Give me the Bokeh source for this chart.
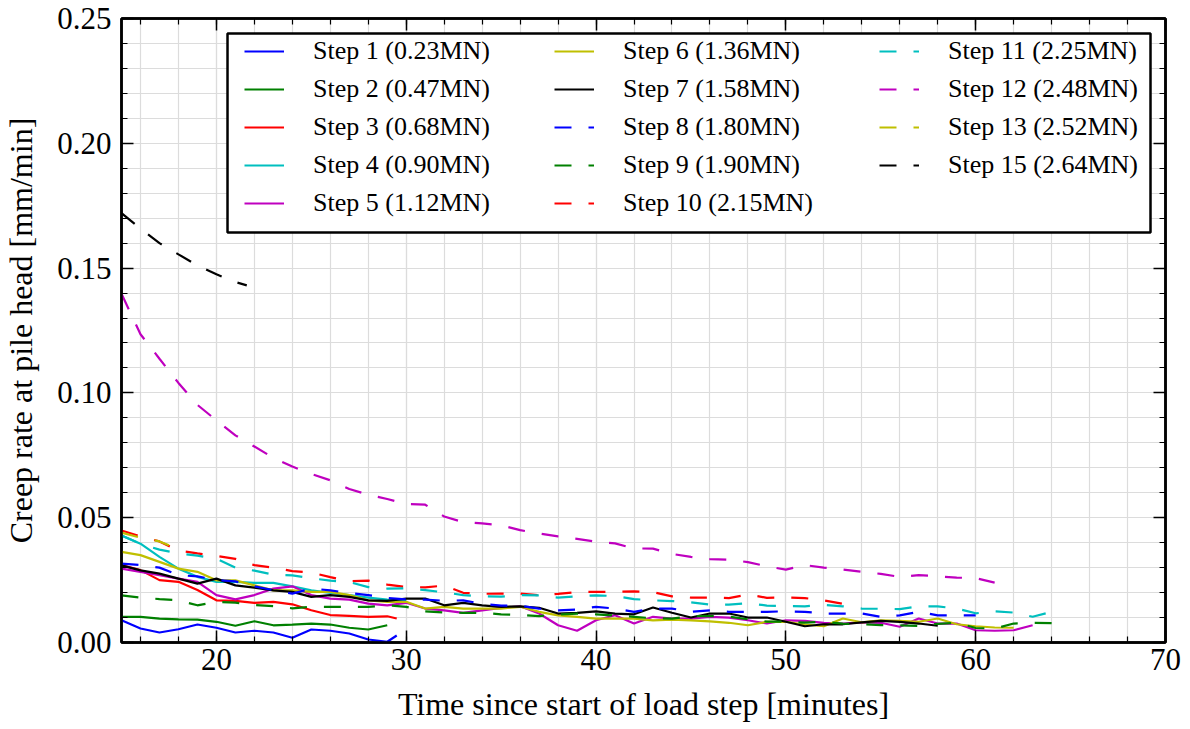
from bokeh.plotting import figure
from bokeh.models import (Range1d, LinearAxis, SingleIntervalTicker, NumeralTickFormatter,
                          Legend, LegendItem, BoxAnnotation)
from bokeh.embed import file_html
from bokeh.resources import INLINE

# ---- measured creep rates [mm/min] vs. time since start of load step [min] ----
t_step1 = [15, 16, 17, 18, 19, 20, 21, 22, 23, 24, 25, 26, 27, 28, 29, 29.5]
v_step1 = [0.0089, 0.0056, 0.0040, 0.0053, 0.0072, 0.0059, 0.0040, 0.0047, 0.0040, 0.0019,
           0.0052, 0.0047, 0.0036, 0.0012, 0.0003, 0.0028]

t_step2 = [15, 16, 17, 18, 19, 20, 21, 22, 23, 24, 25, 26, 27, 28, 29]
v_step2 = [0.0103, 0.0103, 0.0096, 0.0093, 0.0092, 0.0083, 0.0067, 0.0085, 0.0069, 0.0072,
           0.0076, 0.0072, 0.0059, 0.0052, 0.0069]

t_step3 = [15, 16, 17, 18, 19, 20, 21, 22, 23, 24, 25, 26, 27, 28, 29, 29.5]
v_step3 = [0.0310, 0.0290, 0.0250, 0.0243, 0.0210, 0.0169, 0.0167, 0.0159, 0.0163, 0.0153,
           0.0129, 0.0110, 0.0107, 0.0103, 0.0105, 0.0096]

t_step4 = [15, 16, 17, 18, 19, 20, 21, 22, 23, 24, 25, 26, 27, 28, 29, 30]
v_step4 = [0.0429, 0.0396, 0.0343, 0.0296, 0.0263, 0.0243, 0.0243, 0.0239, 0.0239, 0.0225,
           0.0209, 0.0199, 0.0190, 0.0180, 0.0172, 0.0170]

t_step5 = [15, 16, 17, 18, 19, 20, 21, 22, 23, 24, 25, 26, 27, 28, 29, 30, 31, 32, 33, 34,
           35, 36, 37, 38, 39, 40, 41, 42, 43, 44, 45, 46, 47, 48, 49, 50, 51, 52, 53, 54,
           55, 56, 57, 58, 59, 60, 61, 62, 63]
v_step5 = [0.0296, 0.0283, 0.0270, 0.0256, 0.0243, 0.0190, 0.0173, 0.0190, 0.0216, 0.0225,
           0.0190, 0.0176, 0.0172, 0.0156, 0.0149, 0.0159, 0.0136, 0.0129, 0.0119, 0.0129,
           0.0139, 0.0145, 0.0116, 0.0069, 0.0047, 0.0089, 0.0109, 0.0076, 0.0103, 0.0096,
           0.0096, 0.0103, 0.0100, 0.0089, 0.0076, 0.0089, 0.0087, 0.0079, 0.0076, 0.0081,
           0.0079, 0.0063, 0.0096, 0.0076, 0.0076, 0.0049, 0.0047, 0.0049, 0.0069]

t_step6 = [15, 16, 17, 18, 19, 20, 21, 22, 23, 24, 25, 26, 27, 28, 29, 30, 31, 32, 33, 34,
           35, 36, 37, 38, 39, 40, 41, 42, 43, 44, 45, 46, 47, 48, 49, 50, 51, 52, 53, 54,
           55, 56, 57, 58, 59, 60, 61, 62]
v_step6 = [0.0363, 0.0350, 0.0323, 0.0296, 0.0283, 0.0249, 0.0249, 0.0229, 0.0209, 0.0209,
           0.0203, 0.0203, 0.0190, 0.0169, 0.0163, 0.0163, 0.0136, 0.0143, 0.0136, 0.0136,
           0.0136, 0.0143, 0.0123, 0.0109, 0.0103, 0.0096, 0.0096, 0.0096, 0.0089, 0.0092,
           0.0089, 0.0085, 0.0079, 0.0069, 0.0083, 0.0083, 0.0072, 0.0065, 0.0096, 0.0081,
           0.0089, 0.0087, 0.0083, 0.0096, 0.0073, 0.0065, 0.0060, 0.0059]

t_step7 = [15, 16, 17, 18, 19, 20, 21, 22, 23, 24, 25, 26, 27, 28, 29, 30, 31, 32, 33, 34,
           35, 36, 37, 38, 39, 40, 41, 42, 43, 44, 45, 46, 47, 48, 49, 50, 51, 52, 53, 54,
           55, 56, 57, 58]
v_step7 = [0.0309, 0.0289, 0.0276, 0.0256, 0.0236, 0.0256, 0.0229, 0.0220, 0.0209, 0.0203,
           0.0183, 0.0190, 0.0183, 0.0169, 0.0167, 0.0176, 0.0176, 0.0149, 0.0159, 0.0149,
           0.0143, 0.0145, 0.0139, 0.0116, 0.0119, 0.0125, 0.0116, 0.0113, 0.0140, 0.0119,
           0.0100, 0.0116, 0.0116, 0.0100, 0.0100, 0.0083, 0.0065, 0.0073, 0.0073, 0.0081,
           0.0087, 0.0083, 0.0076, 0.0067]

t_step8 = [15, 16, 17, 18, 19, 20, 21, 22, 23, 24, 25, 26, 27, 28, 29, 30, 31, 32, 33, 34,
           35, 36, 37, 38, 39, 40, 41, 42, 43, 44, 45, 46, 47, 48, 49, 50, 51, 52, 53, 54,
           55, 56, 57, 58, 59, 60]
v_step8 = [0.0316, 0.0310, 0.0300, 0.0270, 0.0265, 0.0250, 0.0245, 0.0225, 0.0210, 0.0196,
           0.0216, 0.0209, 0.0198, 0.0190, 0.0178, 0.0173, 0.0172, 0.0167, 0.0169, 0.0155,
           0.0148, 0.0147, 0.0136, 0.0129, 0.0132, 0.0143, 0.0136, 0.0123, 0.0136, 0.0136,
           0.0123, 0.0129, 0.0123, 0.0123, 0.0123, 0.0125, 0.0123, 0.0116, 0.0116, 0.0116,
           0.0103, 0.0109, 0.0123, 0.0109, 0.0109, 0.0109]

t_step9 = [15, 16, 17, 18, 19, 20, 21, 22, 23, 24, 25, 26, 27, 28, 29, 30, 31, 32, 33, 34,
           35, 36, 37, 38, 39, 40, 41, 42, 43, 44, 45, 46, 47, 48, 49, 50, 51, 52, 53, 54,
           55, 56, 57, 58, 59, 60, 61, 62, 63, 64]
v_step9 = [0.0189, 0.0180, 0.0174, 0.0169, 0.0149, 0.0163, 0.0160, 0.0150, 0.0146, 0.0137,
           0.0143, 0.0143, 0.0143, 0.0143, 0.0149, 0.0143, 0.0125, 0.0120, 0.0119, 0.0119,
           0.0113, 0.0110, 0.0106, 0.0112, 0.0116, 0.0113, 0.0108, 0.0103, 0.0097, 0.0096,
           0.0105, 0.0106, 0.0104, 0.0093, 0.0084, 0.0083, 0.0080, 0.0083, 0.0076, 0.0073,
           0.0070, 0.0069, 0.0066, 0.0075, 0.0079, 0.0058, 0.0056, 0.0076, 0.0079, 0.0078]

t_step10 = [15, 16, 17, 18, 19, 20, 21, 22, 23, 24, 25, 26, 27, 28, 29, 30, 31, 32, 33, 34,
            35, 36, 37, 38, 39, 40, 41, 42, 43, 44, 45, 46, 47, 48, 49, 50, 51, 52, 53, 53.7]
v_step10 = [0.0449, 0.0425, 0.0405, 0.0368, 0.0357, 0.0347, 0.0335, 0.0310, 0.0300, 0.0286,
            0.0280, 0.0262, 0.0245, 0.0248, 0.0232, 0.0222, 0.0221, 0.0228, 0.0199, 0.0195,
            0.0196, 0.0196, 0.0189, 0.0195, 0.0202, 0.0203, 0.0203, 0.0205, 0.0202, 0.0185,
            0.0180, 0.0180, 0.0178, 0.0192, 0.0179, 0.0180, 0.0178, 0.0169, 0.0155, 0.0140]

t_step11 = [15, 16, 17, 18, 19, 20, 21, 22, 23, 24, 25, 26, 27, 28, 29, 30, 31, 32, 33, 34,
            35, 36, 37, 38, 39, 40, 41, 42, 43, 44, 45, 46, 47, 48, 49, 50, 51, 52, 53, 54,
            55, 56, 57, 58, 59, 60, 61, 62, 63, 64]
v_step11 = [0.0429, 0.0395, 0.0372, 0.0357, 0.0348, 0.0336, 0.0300, 0.0288, 0.0272, 0.0269,
            0.0257, 0.0248, 0.0242, 0.0222, 0.0216, 0.0217, 0.0210, 0.0201, 0.0190, 0.0185,
            0.0184, 0.0190, 0.0189, 0.0180, 0.0185, 0.0189, 0.0186, 0.0174, 0.0169, 0.0166,
            0.0161, 0.0152, 0.0152, 0.0157, 0.0148, 0.0146, 0.0145, 0.0151, 0.0145, 0.0136,
            0.0135, 0.0134, 0.0145, 0.0145, 0.0136, 0.0117, 0.0125, 0.0120, 0.0103, 0.0123]

t_step12 = [15, 16, 17, 18, 19, 20, 21, 22, 23, 24, 25, 26, 27, 28, 29, 30, 31, 32, 33, 34,
            35, 36, 37, 38, 39, 40, 41, 42, 43, 44, 45, 46, 47, 48, 49, 50, 51, 52, 53, 54,
            55, 56, 57, 58, 59, 60, 61]
v_step12 = [0.1397, 0.1235, 0.1137, 0.1040, 0.0952, 0.0890, 0.0830, 0.0785, 0.0740, 0.0705,
            0.0675, 0.0650, 0.0615, 0.0592, 0.0575, 0.0555, 0.0552, 0.0505, 0.0482, 0.0477,
            0.0470, 0.0450, 0.0437, 0.0425, 0.0415, 0.0404, 0.0397, 0.0377, 0.0376, 0.0355,
            0.0343, 0.0334, 0.0332, 0.0322, 0.0305, 0.0292, 0.0310, 0.0300, 0.0292, 0.0283,
            0.0275, 0.0263, 0.0270, 0.0265, 0.0260, 0.0258, 0.0240]

t_step13 = [15, 16, 17, 17.5]
v_step13 = [0.0440, 0.0420, 0.0405, 0.0390]

t_step15 = [15, 16, 17, 18, 19, 20, 21, 21.6]
v_step15 = [0.1720, 0.1658, 0.1600, 0.1555, 0.1511, 0.1475, 0.1444, 0.1431]

step_labels = ["Step 1 (0.23MN)", "Step 2 (0.47MN)", "Step 3 (0.68MN)", "Step 4 (0.90MN)",
               "Step 5 (1.12MN)", "Step 6 (1.36MN)", "Step 7 (1.58MN)", "Step 8 (1.80MN)",
               "Step 9 (1.90MN)", "Step 10 (2.15MN)", "Step 11 (2.25MN)", "Step 12 (2.48MN)",
               "Step 13 (2.52MN)", "Step 15 (2.64MN)"]

x_label = "Time since start of load step [minutes]"
y_label = "Creep rate at pile head [mm/min]"

# ---- styling ----
FONT = "Liberation Serif"
COLORS = ["#0000ff", "#008000", "#ff0000", "#00bfbf", "#bf00bf", "#bfbf00", "#000000"]
DASH = "17 17"
LW = 2.2

series = [
    (t_step1, v_step1), (t_step2, v_step2), (t_step3, v_step3), (t_step4, v_step4),
    (t_step5, v_step5), (t_step6, v_step6), (t_step7, v_step7), (t_step8, v_step8),
    (t_step9, v_step9), (t_step10, v_step10), (t_step11, v_step11), (t_step12, v_step12),
    (t_step13, v_step13), (t_step15, v_step15),
]

p = figure(width=1190, height=729, output_backend="svg", toolbar_location=None,
           x_range=Range1d(15, 70), y_range=Range1d(0, 0.25),
           min_border_left=121, min_border_right=25, min_border_top=18, min_border_bottom=87)
p.background_fill_color = "white"
p.border_fill_color = "white"
p.outline_line_color = "black"
p.outline_line_width = 2.5

xticker = SingleIntervalTicker(interval=10, num_minor_ticks=5)
yticker = SingleIntervalTicker(interval=0.05, num_minor_ticks=5)

p.xaxis.ticker = xticker
p.yaxis.ticker = yticker
p.yaxis.formatter = NumeralTickFormatter(format="0.00")
p.xaxis.formatter = NumeralTickFormatter(format="0")
p.xaxis.axis_label = x_label
p.yaxis.axis_label = y_label

for ax in (p.xaxis[0], p.yaxis[0]):
    ax.axis_label_text_font = FONT
    ax.axis_label_text_font_size = "32px"
    ax.axis_label_text_font_style = "normal"
    ax.axis_label_text_color = "black"
    ax.major_label_text_font = FONT
    ax.major_label_text_font_size = "31px"
    ax.major_label_text_color = "black"

p.xaxis.major_label_standoff = 6
p.xaxis.axis_label_standoff = 13
p.yaxis.major_label_standoff = 10
p.yaxis.axis_label_standoff = 15

# mirrored axes on top and right: ticks only, no labels drawn
for side in ("above", "right"):
    mirror = LinearAxis(ticker=xticker if side == "above" else yticker,
                        major_label_text_font_size="1px", major_label_text_color=None,
                        major_label_standoff=0)
    p.add_layout(mirror, side)

for ax in p.axis:
    ax.axis_line_color = "black"
    ax.axis_line_width = 2.5
    ax.major_tick_in = 12
    ax.major_tick_out = 0
    ax.minor_tick_in = 6
    ax.minor_tick_out = 0
    ax.major_tick_line_color = "black"
    ax.minor_tick_line_color = "black"
    ax.major_tick_line_width = 1.5
    ax.minor_tick_line_width = 1.2

for g in (p.xgrid[0], p.ygrid[0]):
    g.grid_line_color = "#dcdcdc"
    g.grid_line_width = 1.2
    g.minor_grid_line_color = "#dcdcdc"
    g.minor_grid_line_width = 1.2

renderers = []
for i, (t, v) in enumerate(series):
    color = COLORS[i % 7]
    dash = "solid" if i < 7 else DASH
    r = p.line(t, v, line_color=color, line_width=LW, line_dash=dash)
    renderers.append(r)

# legend frame
legend_box = BoxAnnotation(left=20.585, right=69.21, bottom=0.1643, top=0.2440,
                           fill_color="white", fill_alpha=1.0,
                           line_color="black", line_alpha=1.0, line_width=2.5)
p.add_layout(legend_box)

ROW = 38
columns = [(0, 5, 123), (5, 10, 433), (10, 14, 758)]
for start, stop, vx in columns:
    items = [LegendItem(label=step_labels[k], renderers=[renderers[k]]) for k in range(start, stop)]
    n = stop - start
    leg = Legend(items=items, location=(vx, 642 - 18 - 16 - n * ROW + 2),
                 orientation="vertical", padding=0, margin=0, spacing=0,
                 glyph_width=40, glyph_height=ROW, label_height=ROW, label_standoff=29,
                 label_text_font=FONT, label_text_font_size="26px", label_text_color="black",
                 background_fill_alpha=0, border_line_alpha=0)
    p.add_layout(leg)

open("out.html", "w").write(file_html(p, INLINE))
